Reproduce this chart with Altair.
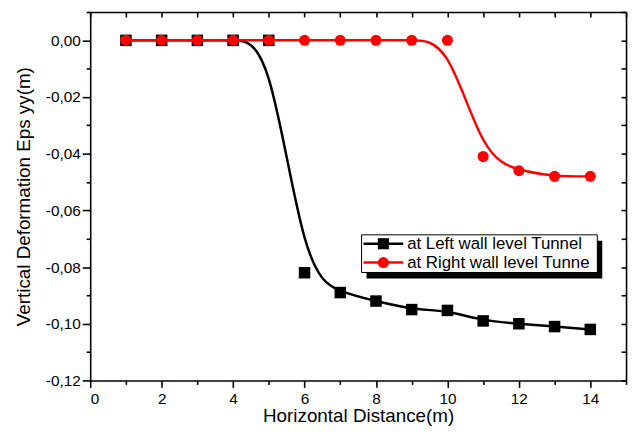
import altair as alt
import pandas as pd

# ---- data ----
x_positions = [1, 2, 3, 4, 5, 6, 7, 8, 9, 10, 11, 12, 13, 14]
left_wall = [0.0, 0.0, 0.0, 0.0, 0.0, -0.082, -0.089, -0.092, -0.095, -0.0953,
             -0.099, -0.100, -0.101, -0.102]
right_wall = [0.0, 0.0, 0.0, 0.0, 0.0, 0.0, 0.0, 0.0, 0.0, 0.0,
              -0.041, -0.046, -0.048, -0.048]
x_major = [0, 2, 4, 6, 8, 10, 12, 14]
x_minor = [1, 3, 5, 7, 9, 11, 13, 15]
x_all = [0, 1, 2, 3, 4, 5, 6, 7, 8, 9, 10, 11, 12, 13, 14, 15]
y_major = [0.0, -0.02, -0.04, -0.06, -0.08, -0.10, -0.12]
y_minor = [0.01, -0.01, -0.03, -0.05, -0.07, -0.09, -0.11]
y_all = [0.01, 0.0, -0.01, -0.02, -0.03, -0.04, -0.05, -0.06, -0.07, -0.08,
         -0.09, -0.10, -0.11, -0.12]
legend_labels = ["at Left wall level Tunnel", "at Right wall level Tunne"]
x_title = "Horizontal Distance(m)"
y_title = "Vertical Deformation Eps yy(m)"

FONT = "Liberation Sans"
W, H = 541, 372

df_left = pd.DataFrame({"x": x_positions, "y": left_wall})
df_right = pd.DataFrame({"x": x_positions, "y": right_wall})
dummy = pd.DataFrame({"a": [0]})

xs = alt.Scale(domain=[0, 15], nice=False, zero=False)
ys = alt.Scale(domain=[-0.12, 0.01], nice=False, zero=False)

y_label_expr = ("(datum.value < -0.0001 ? '-' : '') + "
                "replace(format(abs(datum.value), '.2f'), '.', ',')")

x_main = alt.Axis(values=x_major, orient="bottom", title=x_title,
                  tickSize=7, labelPadding=4, titlePadding=0)
y_main = alt.Axis(values=y_major, orient="left", title=y_title,
                  labelExpr=y_label_expr, tickSize=8, labelPadding=2,
                  titlePadding=12)
x_min = alt.Axis(values=x_minor, orient="bottom", labels=False, domain=False,
                 title=None, tickSize=4)
y_min = alt.Axis(values=y_minor, orient="left", labels=False, domain=False,
                 title=None, tickSize=4)
x_top = alt.Axis(values=x_all, orient="bottom", offset=-H, labels=False,
                 title=None, tickSize=5)
y_right = alt.Axis(values=y_all, orient="left", offset=-W, labels=False,
                   title=None, tickSize=5)

black_line = alt.Chart(df_left).mark_line(color="black", strokeWidth=2.5,
                                           interpolate="basis").encode(
    x=alt.X("x:Q", scale=xs, axis=x_main),
    y=alt.Y("y:Q", scale=ys, axis=y_main),
)
black_pts = alt.Chart(df_left).mark_point(shape="square", filled=True, size=135,
                                          color="black", opacity=1).encode(
    x=alt.X("x:Q", scale=xs, axis=x_min),
    y=alt.Y("y:Q", scale=ys, axis=y_min),
)
red_line = alt.Chart(df_right).mark_line(color="#ff0000", strokeWidth=2.5,
                                          interpolate="basis").encode(
    x=alt.X("x:Q", scale=xs, axis=x_top),
    y=alt.Y("y:Q", scale=ys, axis=y_right),
)
red_pts = alt.Chart(df_right).mark_point(shape="circle", filled=True, size=125,
                                         color="#ff0000", opacity=1).encode(
    x=alt.X("x:Q", scale=xs, axis=None),
    y=alt.Y("y:Q", scale=ys, axis=None),
)

# ---- legend ----
shadow = alt.Chart(dummy).mark_rect(color="black").encode(
    x=alt.value(279), x2=alt.value(517), y=alt.value(231), y2=alt.value(269))
box = alt.Chart(dummy).mark_rect(fill="white", stroke="black", strokeWidth=1).encode(
    x=alt.value(274), x2=alt.value(512), y=alt.value(225), y2=alt.value(263))
leg_l1 = alt.Chart(dummy).mark_rule(color="black", strokeWidth=2.5).encode(
    x=alt.value(276), x2=alt.value(316), y=alt.value(234))
leg_p1 = alt.Chart(dummy).mark_point(shape="square", filled=True, size=125,
                                     color="black", opacity=1).encode(
    x=alt.value(296), y=alt.value(234))
leg_t1 = alt.Chart(dummy).mark_text(align="left", baseline="middle", fontSize=17,
                                    font=FONT, color="black").encode(
    x=alt.value(320), y=alt.value(234), text=alt.value(legend_labels[0]))
leg_l2 = alt.Chart(dummy).mark_rule(color="#ff0000", strokeWidth=2.5).encode(
    x=alt.value(276), x2=alt.value(316), y=alt.value(253))
leg_p2 = alt.Chart(dummy).mark_point(shape="circle", filled=True, size=125,
                                     color="#ff0000", opacity=1).encode(
    x=alt.value(296), y=alt.value(253))
leg_t2 = alt.Chart(dummy).mark_text(align="left", baseline="middle", fontSize=17,
                                    font=FONT, color="black").encode(
    x=alt.value(320), y=alt.value(253), text=alt.value(legend_labels[1]))

chart = alt.layer(
    black_line, black_pts, red_line, red_pts,
    shadow, box, leg_l1, leg_p1, leg_t1, leg_l2, leg_p2, leg_t2,
).resolve_scale(x="shared", y="shared").resolve_axis(
    x="independent", y="independent"
).properties(
    width=W, height=H,
    autosize=alt.AutoSizeParams(type="none"),
    padding={"left": 83, "top": 2, "right": 4, "bottom": 45},
    background="white",
).configure_view(stroke=None).configure_axis(
    grid=False,
    domainColor="black", domainWidth=1.6,
    tickColor="black", tickWidth=1.6,
    labelFont=FONT, labelFontSize=15.5, labelColor="black",
    titleFont=FONT, titleFontSize=19, titleFontWeight="normal", titleColor="black",
)

chart.save("out.html", embed_options={"renderer": "svg", "actions": False})
